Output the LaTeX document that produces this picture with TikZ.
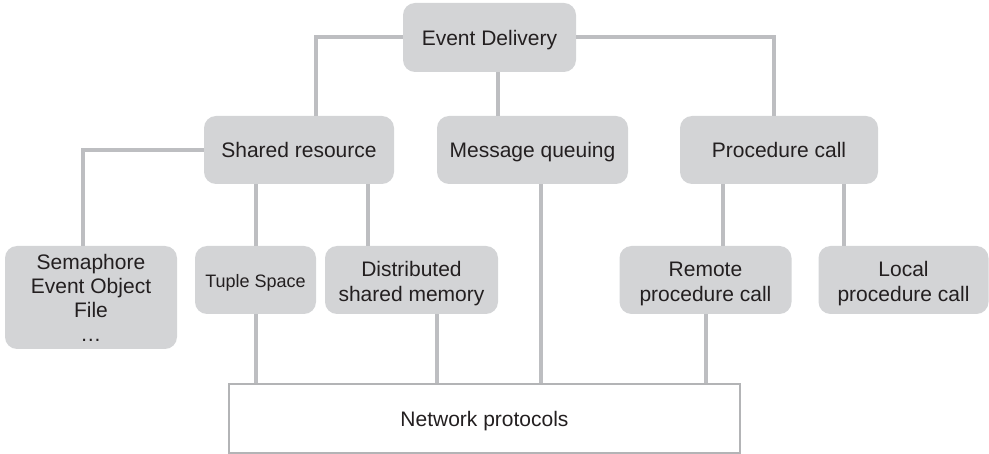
\documentclass[tikz,border=0pt]{standalone}
\usepackage{fontspec}
\setmainfont{Liberation Sans}
\definecolor{boxfill}{HTML}{D3D4D6}
\definecolor{linegray}{HTML}{BDBEC1}
\definecolor{txt}{HTML}{231F20}
\definecolor{npborder}{HTML}{B3B4B6}
\newcommand{\lowstrut}{\rule{0pt}{23pt}}
\begin{document}
\begin{tikzpicture}[x=1pt,y=1pt,
  gbox/.style={fill=boxfill,draw=none,rounded corners=12pt,inner sep=0pt,align=center,text=txt,font=\fontsize{21}{25}\selectfont},
  oneline/.style={text height=20pt,text depth=4pt},
  conn/.style={draw=linegray,line width=4pt},
  npbox/.style={fill=white,draw=npborder,line width=2pt,inner sep=0pt,text=txt,font=\fontsize{21}{25}\selectfont}]
\useasboundingbox (0,0) rectangle (989,-454);
\node[gbox,oneline,minimum width=173pt,minimum height=69pt] (ed) at (489.5,-37.5) {Event Delivery};
\node[gbox,oneline,minimum width=190pt,minimum height=68pt] (sr) at (299,-150) {Shared resource};
\node[gbox,oneline,minimum width=191pt,minimum height=68pt] (mq) at (532.5,-150) {Message queuing};
\node[gbox,oneline,minimum width=198pt,minimum height=68pt] (pc) at (779,-150) {Procedure call};
\node[gbox,minimum width=172pt,minimum height=103pt,font=\fontsize{21}{24}\selectfont] (sem) at (91,-297.5) {Semaphore\\Event Object\\File\\\dots};
\node[gbox,oneline,minimum width=121pt,minimum height=68pt,font=\fontsize{18}{22}\selectfont] (tp) at (255.5,-280) {Tuple Space};
\node[gbox,minimum width=173pt,minimum height=68pt] (dsm) at (411.5,-280) {\lowstrut Distributed\\shared memory};
\node[gbox,minimum width=172pt,minimum height=68pt] (rpc) at (705.5,-280) {\lowstrut Remote\\procedure call};
\node[gbox,minimum width=170pt,minimum height=68pt] (lpc) at (903.5,-280) {\lowstrut Local\\procedure call};
\node[npbox,oneline,minimum width=511pt,minimum height=69pt] (np) at (484.5,-418.5) {Network protocols};
% connectors
\draw[conn] (ed.west) -| ([xshift=17pt]sr.north);
\draw[conn] (ed.east) -| ([xshift=-5pt]pc.north);
\draw[conn] ([xshift=8.5pt]ed.south) -- ([xshift=8.5pt]ed.south |- mq.north);
\draw[conn] (sr.west) -| ([xshift=-8pt]sem.north);
\draw[conn] (tp.north |- sr.south) -- (tp.north);
\draw[conn] ([xshift=-43.5pt]dsm.north |- sr.south) -- ([xshift=-43.5pt]dsm.north);
\draw[conn] ([xshift=17.5pt]rpc.north |- pc.south) -- ([xshift=17.5pt]rpc.north);
\draw[conn] ([xshift=-59.5pt]lpc.north |- pc.south) -- ([xshift=-59.5pt]lpc.north);
\draw[conn] ([xshift=8.5pt]mq.south) -- ([xshift=8.5pt]mq.south |- np.north);
\draw[conn] (tp.south) -- (tp.south |- np.north);
\draw[conn] ([xshift=25.5pt]dsm.south) -- ([xshift=25.5pt]dsm.south |- np.north);
\draw[conn] (rpc.south) -- (rpc.south |- np.north);
\end{tikzpicture}
\end{document}
